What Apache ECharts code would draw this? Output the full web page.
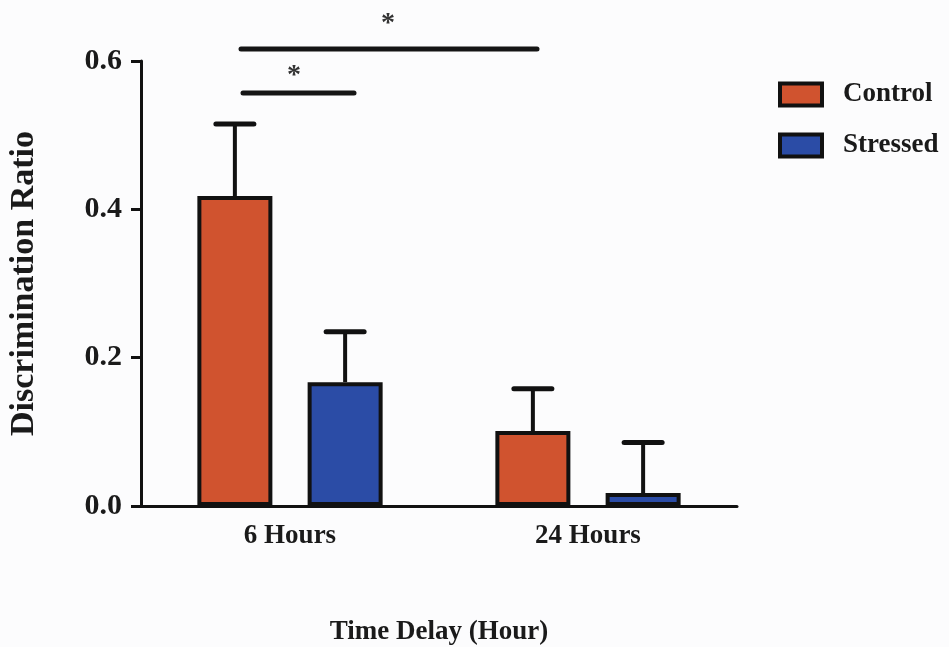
<!DOCTYPE html>
<html>
<head>
<meta charset="utf-8">
<script src="https://cdn.jsdelivr.net/npm/echarts@6/dist/echarts.min.js"></script>
<style>
  html, body { margin: 0; padding: 0; background: #fcfcfd; }
  #chart { width: 949px; height: 647px; }
</style>
</head>
<body>
<div id="chart"></div>
<script>
const categories = ['6 Hours', '24 Hours'];
const controlMean = [0.418, 0.101];
const controlErr = [0.097, 0.057];
const stressedMean = [0.167, 0.0175];
const stressedErr = [0.068, 0.068];
const yTicks = [0, 0.2, 0.4, 0.6];

const FONT = 'Liberation Serif';
const BAR_W = 75;
const BAR_GAP = 0.47;
const RED = '#d0532f';
const BLUE = '#2b4ca6';

const chart = echarts.init(document.getElementById('chart'));

// error bar drawn above each bar; offset = half distance between bar centres
function errorSeries(name, means, errs, side) {
	const offset = side * (BAR_W * (1 + BAR_GAP)) / 2;
	return {
		name: name + ' err',
		type: 'custom',
		z: 1,
		silent: true,
		data: means.map((m, i) => [i, m, m + errs[i]]),
		renderItem: (params, api) => {
			const base = api.coord([api.value(0), api.value(1)]);
			const top = api.coord([api.value(0), api.value(2)]);
			const x = base[0] + offset;
			const style = { stroke: '#111', lineWidth: 4 };
			return {
				type: 'group',
				children: [
					{ type: 'line', shape: { x1: x, y1: base[1], x2: x, y2: top[1] }, style },
					{ type: 'line', shape: { x1: x - 19, y1: top[1], x2: x + 19, y2: top[1] },
						style: { stroke: '#111', lineWidth: 5, lineCap: 'round' } },
				],
			};
		},
	};
}

chart.setOption({
	backgroundColor: '#fcfcfd',
	animation: false,
	textStyle: { fontFamily: FONT, fontWeight: 'bold', color: '#1a1a1a' },
	grid: { left: 141, right: 212, top: 61, bottom: 141, outerBoundsMode: 'none' },
	legend: {
		left: 773,
		top: 76,
		orient: 'vertical',
		itemWidth: 42,
		itemHeight: 22,
		itemGap: 24,
		icon: 'rect',
		itemStyle: { borderColor: '#111', borderWidth: 4 },
		data: ['Control', 'Stressed'],
		textStyle: { fontFamily: FONT, fontWeight: 'bold', fontSize: 27, color: '#1a1a1a', padding: [0, 0, 0, 16] },
	},
	xAxis: {
		type: 'category',
		data: categories,
		axisLine: { lineStyle: { color: '#111', width: 3 } },
		axisTick: { alignWithLabel: true, length: 10, lineStyle: { color: '#111', width: 3 } },
		axisLabel: { fontFamily: FONT, fontWeight: 'bold', fontSize: 27, color: '#1a1a1a', margin: 17 },
		name: 'Time Delay (Hour)',
		nameLocation: 'middle',
		nameGap: 113,
		nameTextStyle: { fontFamily: FONT, fontWeight: 'bold', fontSize: 27, color: '#1a1a1a' },
	},
	yAxis: {
		type: 'value',
		min: yTicks[0],
		max: yTicks[yTicks.length - 1],
		interval: 0.2,
		splitLine: { show: false },
		axisLine: { show: true, lineStyle: { color: '#111', width: 3 } },
		axisTick: { show: true, length: 10, lineStyle: { color: '#111', width: 3 } },
		axisLabel: {
			fontFamily: FONT, fontWeight: 'bold', fontSize: 30, color: '#1a1a1a', margin: 19,
			formatter: v => v.toFixed(1),
		},
		name: 'Discrimination Ratio',
		nameLocation: 'middle',
		nameGap: 100,
		nameTextStyle: { fontFamily: FONT, fontWeight: 'bold', fontSize: 34, color: '#1a1a1a' },
	},
	series: [
		{
			name: 'Control',
			type: 'bar',
			z: 2,
			barWidth: BAR_W,
			barGap: (BAR_GAP * 100) + '%',
			itemStyle: { color: RED, borderColor: '#111', borderWidth: 4 },
			data: controlMean,
		},
		{
			name: 'Stressed',
			type: 'bar',
			z: 2,
			barWidth: BAR_W,
			itemStyle: { color: BLUE, borderColor: '#111', borderWidth: 4 },
			data: stressedMean,
		},
		errorSeries('Control', controlMean, controlErr, -1),
		errorSeries('Stressed', stressedMean, stressedErr, 1),
	],
	graphic: [
		// significance brackets
		{ type: 'line', shape: { x1: 241, y1: 49, x2: 537, y2: 49 }, style: { stroke: '#151515', lineWidth: 5, lineCap: 'round' } },
		{ type: 'text', style: { x: 388, y: 24, text: '*', font: 'bold 28px ' + FONT, fill: '#333', align: 'center', verticalAlign: 'middle' } },
		{ type: 'line', shape: { x1: 243, y1: 93, x2: 354, y2: 93 }, style: { stroke: '#151515', lineWidth: 5, lineCap: 'round' } },
		{ type: 'text', style: { x: 294, y: 76, text: '*', font: 'bold 28px ' + FONT, fill: '#333', align: 'center', verticalAlign: 'middle' } },
	],
});
</script>
</body>
</html>
